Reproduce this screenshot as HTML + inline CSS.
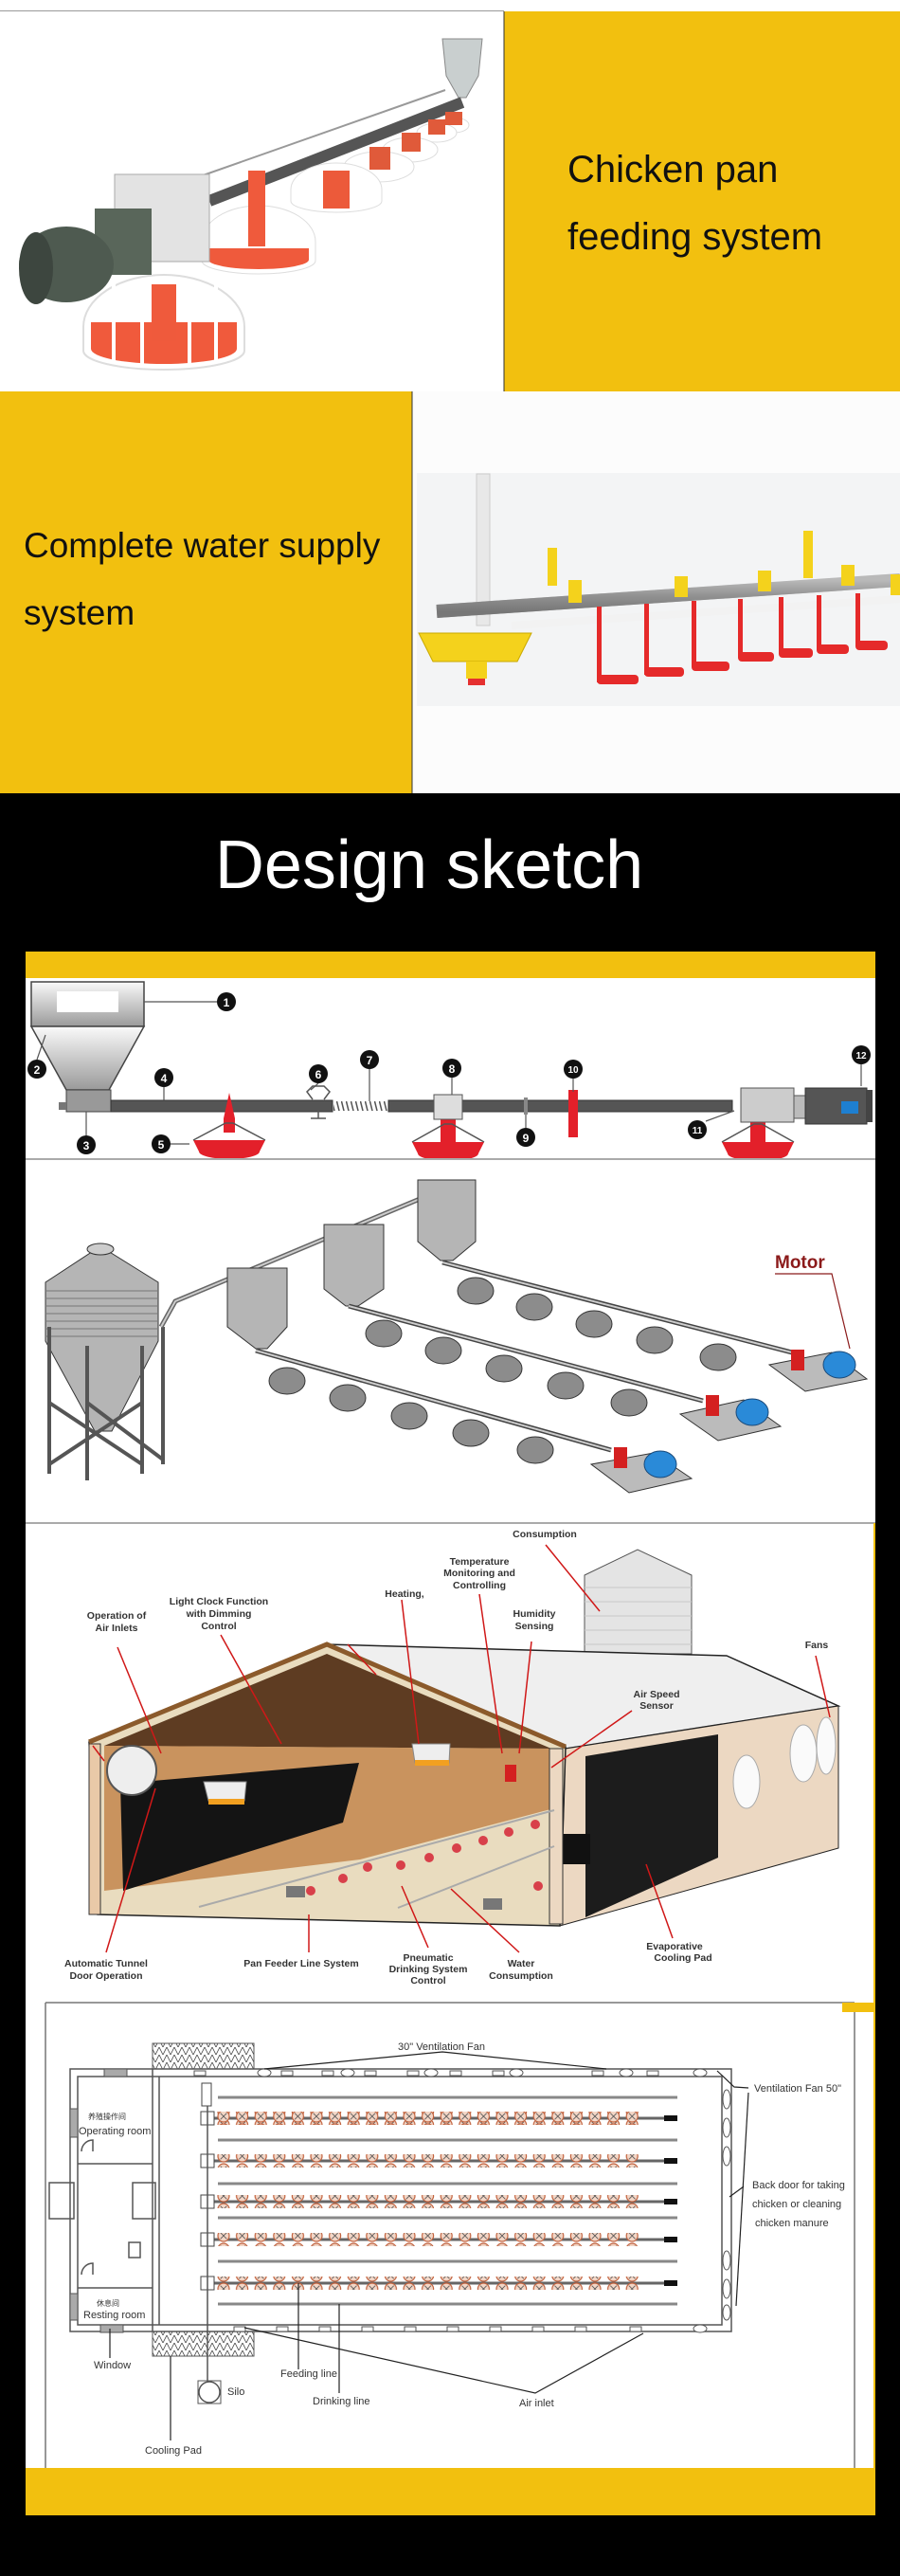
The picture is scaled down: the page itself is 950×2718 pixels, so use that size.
<!DOCTYPE html>
<html><head><meta charset="utf-8"><style>
html,body{margin:0;padding:0;background:#fff}
svg{display:block}
text{font-family:"Liberation Sans","Noto Sans CJK SC",sans-serif}
</style></head><body>
<svg width="950" height="2718" viewBox="0 0 950 2718" xmlns="http://www.w3.org/2000/svg">
<defs>
<linearGradient id="hop" x1="0" y1="0" x2="0" y2="1"><stop offset="0" stop-color="#fafafa"/><stop offset="1" stop-color="#9a9a9a"/></linearGradient>
<linearGradient id="pipeg" x1="0" y1="0" x2="0" y2="1"><stop offset="0" stop-color="#d8d8d8"/><stop offset=".5" stop-color="#8a8a8a"/><stop offset="1" stop-color="#555"/></linearGradient>
<pattern id="fpan" x="226.2" y="0" width="19.6" height="3000" patternUnits="userSpaceOnUse">
<circle cx="9.8" cy="0" r="6.5" fill="#f3d6c6" stroke="#c0603c" stroke-width="1.2"/>
</pattern>
<pattern id="zig" x="0" y="0" width="8" height="8" patternUnits="userSpaceOnUse">
<path d="M0 0 L4 8 L8 0" fill="none" stroke="#444" stroke-width="0.8"/>
</pattern>
<pattern id="spring" x="0" y="0" width="5" height="20" patternUnits="userSpaceOnUse">
<line x1="0" y1="0" x2="5" y2="20" stroke="#555" stroke-width="1.5"/>
</pattern>
</defs>

<!-- ===== SECTION 1 ===== -->
<rect x="0" y="0" width="950" height="12" fill="#fff"/>
<line x1="0" y1="12" x2="532" y2="12" stroke="#333" stroke-width="1"/>
<rect x="0" y="12" width="532" height="401" fill="#fff"/>
<rect x="532" y="12" width="418" height="401" fill="#f2c00f"/>
<line x1="532" y1="12" x2="532" y2="413" stroke="#333" stroke-width="1"/>
<text x="599" y="192" font-size="40" fill="#111">Chicken pan</text>
<text x="599" y="263" font-size="40" fill="#111">feeding system</text>
<!-- feeder photo -->
<polygon points="467,41 509,41 505,80 492,103 484,103 471,80" fill="#c9cfcf" stroke="#888"/>
<line x1="221" y1="212" x2="488" y2="108" stroke="#555" stroke-width="12"/>
<line x1="200" y1="190" x2="470" y2="95" stroke="#999" stroke-width="2"/>
<g stroke="#e05030" stroke-width="1">
<ellipse cx="479" cy="132" rx="16" ry="8" fill="#fff" stroke="#ddd"/>
<ellipse cx="461" cy="140" rx="21" ry="10" fill="#fff" stroke="#ddd"/>
<ellipse cx="433" cy="158" rx="29" ry="13" fill="#fff" stroke="#ddd"/>
<ellipse cx="400" cy="176" rx="37" ry="16" fill="#fff" stroke="#ddd"/>
</g>
<rect x="470" y="118" width="18" height="14" fill="#e05a3a"/>
<rect x="452" y="126" width="18" height="16" fill="#e05a3a"/>
<rect x="424" y="140" width="20" height="20" fill="#e05a3a"/>
<rect x="390" y="155" width="22" height="24" fill="#e05a3a"/>
<path d="M307 200 a48 28 0 0 1 96 0 v12 a48 12 0 0 1 -96 0z" fill="#fff" stroke="#ddd"/>
<rect x="341" y="180" width="28" height="40" fill="#ec5a3a"/>
<path d="M213 255 a60 38 0 0 1 120 0 v20 a60 14 0 0 1 -120 0z" fill="#fff" stroke="#ddd"/>
<path d="M220 262 h106 v12 a53 10 0 0 1 -106 0z" fill="#ef5a3c"/>
<rect x="262" y="180" width="18" height="80" fill="#ef5a3c"/>
<path d="M88 345 a85 55 0 0 1 170 0 v25 a85 20 0 0 1 -170 0z" fill="#fff" stroke="#ddd" stroke-width="2"/>
<path d="M96 340 h154 v28 a77 16 0 0 1 -154 0z" fill="#f05a3c"/>
<g stroke="#fff" stroke-width="4"><line x1="120" y1="300" x2="120" y2="380"/><line x1="150" y1="295" x2="150" y2="385"/><line x1="200" y1="295" x2="200" y2="385"/><line x1="228" y1="300" x2="228" y2="380"/></g>
<rect x="160" y="300" width="26" height="60" fill="#ef5a3c"/>
<rect x="121" y="184" width="100" height="92" fill="#e3e3e3" stroke="#aaa"/>
<rect x="100" y="220" width="60" height="70" fill="#59665a"/>
<ellipse cx="70" cy="279" rx="50" ry="40" fill="#4e5a50"/>
<ellipse cx="38" cy="283" rx="18" ry="38" fill="#3d463f"/>

<!-- ===== SECTION 2 ===== -->
<rect x="0" y="413" width="435" height="424" fill="#f2c00f"/>
<rect x="435" y="413" width="515" height="424" fill="#fcfcfc"/>
<rect x="440" y="499" width="510" height="246" fill="#f3f4f5"/>
<line x1="435" y1="413" x2="435" y2="837" stroke="#333" stroke-width="1"/>
<text x="25" y="588" font-size="37" fill="#111">Complete water supply</text>
<text x="25" y="659" font-size="37" fill="#111">system</text>
<rect x="503" y="500" width="14" height="160" fill="#e8e8e8" stroke="#ccc"/>
<line x1="461" y1="645" x2="950" y2="612" stroke="url(#pipeg)" stroke-width="14"/>
<line x1="461" y1="645" x2="950" y2="612" stroke="#999" stroke-width="14" stroke-opacity=".5"/>
<line x1="540" y1="660" x2="950" y2="632" stroke="#f2f2f2" stroke-width="8"/>
<path d="M442 668 h119 l-15 30 h-89z" fill="#f4d21c" stroke="#c9a800"/>
<rect x="492" y="698" width="22" height="18" fill="#f4d21c"/>
<rect x="494" y="716" width="18" height="7" fill="#e53030"/>
<g fill="#f4d21c"><rect x="578" y="578" width="10" height="40"/><rect x="600" y="612" width="14" height="24"/><rect x="712" y="608" width="14" height="22"/><rect x="800" y="602" width="14" height="22"/><rect x="848" y="560" width="10" height="50"/><rect x="888" y="596" width="14" height="22"/><rect x="940" y="606" width="10" height="22"/></g>
<g fill="#e52a2a">
<rect x="630" y="640" width="5" height="80"/><rect x="630" y="712" width="44" height="10" rx="4"/>
<rect x="680" y="637" width="5" height="75"/><rect x="680" y="704" width="42" height="10" rx="4"/>
<rect x="730" y="634" width="5" height="70"/><rect x="730" y="698" width="40" height="10" rx="4"/>
<rect x="779" y="632" width="5" height="62"/><rect x="779" y="688" width="38" height="10" rx="4"/>
<rect x="822" y="630" width="5" height="60"/><rect x="822" y="684" width="36" height="10" rx="4"/>
<rect x="862" y="628" width="5" height="58"/><rect x="862" y="680" width="34" height="10" rx="4"/>
<rect x="903" y="626" width="5" height="56"/><rect x="903" y="676" width="34" height="10" rx="4"/>
</g>

<!-- ===== BLACK SECTION ===== -->
<rect x="0" y="837" width="950" height="1881" fill="#000"/>
<text x="453" y="937" font-size="72" fill="#fff" text-anchor="middle">Design sketch</text>

<!-- Panel 1 -->
<rect x="27" y="1004" width="897" height="28" fill="#f2c00f"/>
<rect x="27" y="1032" width="897" height="191" fill="#fff"/>
<rect x="33" y="1036" width="119" height="47" fill="url(#hop)" stroke="#444" stroke-width="1.5"/>
<rect x="60" y="1046" width="65" height="22" fill="#fff"/>
<polygon points="33,1083 152,1083 115,1150 70,1150" fill="url(#hop)" stroke="#444" stroke-width="1.5"/>
<rect x="70" y="1150" width="47" height="23" fill="#999" stroke="#444"/>
<rect x="62" y="1163" width="8" height="8" fill="#777"/>
<rect x="117" y="1161" width="234" height="12" fill="#555" stroke="#333"/>
<rect x="352" y="1162" width="58" height="10" fill="url(#spring)"/>
<rect x="410" y="1161" width="363" height="12" fill="#555" stroke="#333"/>
<!-- pans -->
<g fill="#e3202a">
<polygon points="236,1180 242,1153 248,1180 248,1195 236,1195"/>
<path d="M204 1203 h76 l-6 12 a32 8 0 0 1 -64 0z"/>
<path d="M435 1205 h76 l-6 12 a32 8 0 0 1 -64 0z"/>
<rect x="465" y="1175" width="16" height="30"/>
<path d="M762 1205 h76 l-6 12 a32 8 0 0 1 -64 0z"/>
<rect x="792" y="1175" width="16" height="30"/>
<rect x="600" y="1150" width="10" height="50"/>
</g>
<g stroke="#555" stroke-width="1.5" fill="none">
<path d="M204 1203 L238 1185 L246 1185 L280 1203"/>
<path d="M435 1205 L469 1186 L477 1186 L511 1205"/>
<path d="M762 1205 L796 1186 L804 1186 L838 1205"/>
<path d="M330 1160 l-6 -8 6 -6 12 0 6 6 -6 8 M336 1172 v8 M328 1180 h16"/>
</g>
<rect x="458" y="1155" width="30" height="26" fill="#ddd" stroke="#555"/>
<rect x="553" y="1158" width="4" height="18" fill="#888"/>
<rect x="782" y="1148" width="56" height="36" fill="#ccc" stroke="#555"/>
<rect x="838" y="1156" width="12" height="24" fill="#bbb" stroke="#555"/>
<rect x="850" y="1148" width="65" height="38" fill="#555" stroke="#333"/>
<rect x="915" y="1150" width="6" height="34" fill="#444"/>
<rect x="888" y="1162" width="18" height="13" fill="#1e7fd0"/>
<g stroke="#555" stroke-width="1.2">
<line x1="152" y1="1057" x2="229" y2="1057"/><line x1="39" y1="1118" x2="48" y2="1092"/><line x1="91" y1="1173" x2="91" y2="1198"/>
<line x1="173" y1="1147" x2="173" y2="1161"/><line x1="180" y1="1207" x2="200" y2="1207"/><line x1="336" y1="1143" x2="328" y2="1150"/>
<line x1="390" y1="1128" x2="390" y2="1162"/><line x1="477" y1="1137" x2="477" y2="1155"/><line x1="555" y1="1176" x2="555" y2="1190"/>
<line x1="605" y1="1138" x2="605" y2="1152"/><line x1="745" y1="1183" x2="775" y2="1172"/><line x1="909" y1="1123" x2="909" y2="1146"/>
</g>
<g fill="#111">
<circle cx="239" cy="1057" r="10"/><circle cx="39" cy="1128" r="10"/><circle cx="91" cy="1208" r="10"/><circle cx="173" cy="1137" r="10"/>
<circle cx="170" cy="1207" r="10"/><circle cx="336" cy="1133" r="10"/><circle cx="390" cy="1118" r="10"/><circle cx="477" cy="1127" r="10"/>
<circle cx="555" cy="1200" r="10"/><circle cx="605" cy="1128" r="10"/><circle cx="736" cy="1192" r="10"/><circle cx="909" cy="1113" r="10"/>
</g>
<g fill="#fff" font-size="12" font-weight="bold" text-anchor="middle">
<text x="239" y="1062">1</text><text x="39" y="1133">2</text><text x="91" y="1213">3</text><text x="173" y="1142">4</text>
<text x="170" y="1212">5</text><text x="336" y="1138">6</text><text x="390" y="1123">7</text><text x="477" y="1132">8</text>
<text x="555" y="1205">9</text><text x="605" y="1132" font-size="10">10</text><text x="736" y="1196" font-size="10">11</text><text x="909" y="1117" font-size="10">12</text>
</g>

<!-- Panel 2 -->
<rect x="27" y="1223" width="897" height="384" fill="#fff"/>
<line x1="27" y1="1223" x2="924" y2="1223" stroke="#aaa" stroke-width="2"/>
<!-- silo -->
<polygon points="106,1315 167,1353 167,1415 118,1510 100,1510 48,1415 48,1353" fill="#b5b5b5" stroke="#333"/>
<ellipse cx="106" cy="1318" rx="14" ry="6" fill="#ccc" stroke="#333"/>
<g stroke="#777" stroke-width="1">
<line x1="48" y1="1362" x2="167" y2="1362"/><line x1="48" y1="1370" x2="167" y2="1370"/><line x1="48" y1="1378" x2="167" y2="1378"/><line x1="48" y1="1386" x2="167" y2="1386"/><line x1="48" y1="1394" x2="167" y2="1394"/><line x1="48" y1="1402" x2="167" y2="1402"/><line x1="48" y1="1410" x2="167" y2="1410"/>
</g>
<g stroke="#555" stroke-width="4" fill="none">
<line x1="52" y1="1400" x2="52" y2="1555"/><line x1="92" y1="1420" x2="92" y2="1562"/><line x1="150" y1="1420" x2="150" y2="1555"/><line x1="172" y1="1400" x2="172" y2="1545"/>
<path d="M52 1480 L150 1545 M150 1480 L52 1545 M92 1480 L172 1540"/>
</g>
<path d="M170 1400 L185 1373 L479 1250" stroke="#666" stroke-width="5" fill="none"/>
<path d="M170 1400 L185 1373 L479 1250" stroke="#ccc" stroke-width="2" fill="none"/>
<g fill="#b5b5b5" stroke="#333">
<polygon points="240,1338 303,1338 303,1400 282,1423 270,1423 240,1400"/>
<polygon points="342,1292 405,1292 405,1360 378,1378 365,1378 342,1360"/>
<polygon points="441,1245 502,1245 502,1310 478,1330 465,1330 441,1310"/>
</g>
<g stroke="#444" stroke-width="5"><line x1="270" y1="1425" x2="645" y2="1530"/><line x1="368" y1="1378" x2="742" y2="1478"/><line x1="467" y1="1332" x2="836" y2="1427"/></g>
<g stroke="#ccc" stroke-width="2"><line x1="270" y1="1425" x2="645" y2="1530"/><line x1="368" y1="1378" x2="742" y2="1478"/><line x1="467" y1="1332" x2="836" y2="1427"/></g>
<g fill="#8c8c8c" stroke="#333">
<ellipse cx="303" cy="1457" rx="19" ry="14"/><ellipse cx="367" cy="1475" rx="19" ry="14"/><ellipse cx="432" cy="1494" rx="19" ry="14"/><ellipse cx="497" cy="1512" rx="19" ry="14"/><ellipse cx="565" cy="1530" rx="19" ry="14"/>
<ellipse cx="405" cy="1407" rx="19" ry="14"/><ellipse cx="468" cy="1425" rx="19" ry="14"/><ellipse cx="532" cy="1444" rx="19" ry="14"/><ellipse cx="597" cy="1462" rx="19" ry="14"/><ellipse cx="664" cy="1480" rx="19" ry="14"/>
<ellipse cx="502" cy="1362" rx="19" ry="14"/><ellipse cx="564" cy="1379" rx="19" ry="14"/><ellipse cx="627" cy="1397" rx="19" ry="14"/><ellipse cx="691" cy="1414" rx="19" ry="14"/><ellipse cx="758" cy="1432" rx="19" ry="14"/>
</g>
<g fill="#bbb" stroke="#333">
<polygon points="624,1545 690,1533 730,1560 664,1575"/>
<polygon points="718,1492 785,1477 824,1505 758,1520"/>
<polygon points="812,1440 878,1427 915,1455 850,1468"/>
</g>
<g fill="#d42020"><rect x="648" y="1527" width="14" height="22"/><rect x="745" y="1472" width="14" height="22"/><rect x="835" y="1424" width="14" height="22"/></g>
<g fill="#2a8ad8" stroke="#1a4a7a"><ellipse cx="697" cy="1545" rx="17" ry="14"/><ellipse cx="794" cy="1490" rx="17" ry="14"/><ellipse cx="886" cy="1440" rx="17" ry="14"/></g>
<text x="818" y="1338" font-size="19" font-weight="bold" fill="#8b1a1a">Motor</text>
<polyline points="818,1344 878,1344 897,1423" fill="none" stroke="#8b1a1a" stroke-width="1.2"/>

<!-- Panel 3 -->
<rect x="27" y="1607" width="897" height="506" fill="#fff"/>
<line x1="27" y1="1607" x2="924" y2="1607" stroke="#aaa" stroke-width="2"/>
<line x1="923" y1="1607" x2="923" y2="2113" stroke="#f2c00f" stroke-width="2"/>
<!-- silo -->
<polygon points="617,1662 673,1635 730,1662 730,1745 617,1745" fill="#e4e4e4" stroke="#555"/>
<g stroke="#c8c8c8"><line x1="617" y1="1675" x2="730" y2="1675"/><line x1="617" y1="1690" x2="730" y2="1690"/><line x1="617" y1="1705" x2="730" y2="1705"/><line x1="617" y1="1720" x2="730" y2="1720"/><line x1="617" y1="1735" x2="730" y2="1735"/></g>
<!-- roof -->
<polygon points="345,1735 767,1747 885,1800 597,1845" fill="#efefef" stroke="#222" stroke-width="1.5"/>
<!-- side wall -->
<polygon points="597,1845 885,1800 885,1950 591,2032" fill="#ecd8c2" stroke="#222"/>
<polygon points="618,1853 758,1830 758,1960 618,2023" fill="#1c1c1c"/>
<ellipse cx="788" cy="1880" rx="14" ry="28" fill="#fafafa" stroke="#aaa"/>
<ellipse cx="848" cy="1850" rx="14" ry="30" fill="#fafafa" stroke="#aaa"/>
<ellipse cx="872" cy="1842" rx="10" ry="30" fill="#fafafa" stroke="#aaa"/>
<rect x="593" y="1935" width="30" height="32" fill="#111"/>
<!-- front interior -->
<polygon points="94,1838 345,1735 597,1843 591,2032 103,2020" fill="#e9dcbf" stroke="#222" stroke-width="1.5"/>
<polygon points="110,1842 345,1745 582,1845" fill="#5e3c22"/>
<polygon points="110,1842 582,1845 585,1908 380,1962 110,1995" fill="#c9935e"/>
<polygon points="127,1882 379,1860 362,1923 130,1995" fill="#141414"/>
<rect x="94" y="1840" width="12" height="180" fill="#e9c9a8" stroke="#333"/>
<rect x="580" y="1845" width="14" height="185" fill="#ecd8c2" stroke="#333"/>
<polyline points="94,1838 345,1735 597,1843" fill="none" stroke="#8b5a2b" stroke-width="5"/>
<circle cx="139" cy="1868" r="26" fill="#eee" stroke="#555" stroke-width="2"/>
<g fill="#eee" stroke="#888"><polygon points="215,1880 260,1880 258,1900 220,1900"/><polygon points="435,1840 475,1840 474,1860 438,1860"/></g>
<rect x="220" y="1898" width="38" height="6" fill="#f2a020"/><rect x="438" y="1857" width="36" height="6" fill="#f2a020"/>
<rect x="533" y="1862" width="12" height="18" fill="#d42020"/>
<g stroke="#aaa" stroke-width="2"><line x1="210" y1="2012" x2="585" y2="1910"/><line x1="420" y1="2013" x2="585" y2="1948"/></g>
<g fill="#d8404a">
<circle cx="328" cy="1995" r="5"/><circle cx="362" cy="1982" r="5"/><circle cx="388" cy="1970" r="5"/><circle cx="423" cy="1968" r="5"/><circle cx="453" cy="1960" r="5"/><circle cx="482" cy="1950" r="5"/><circle cx="510" cy="1942" r="5"/><circle cx="537" cy="1933" r="5"/><circle cx="565" cy="1925" r="5"/><circle cx="568" cy="1990" r="5"/>
</g>
<g fill="#777"><rect x="302" y="1990" width="20" height="12"/><rect x="510" y="2003" width="20" height="12"/></g>
<!-- arrows -->
<g stroke="#d01818" stroke-width="1.5">
<line x1="124" y1="1738" x2="170" y2="1850"/><line x1="233" y1="1725" x2="297" y2="1840"/><line x1="424" y1="1688" x2="442" y2="1840"/>
<line x1="506" y1="1682" x2="530" y2="1850"/><line x1="561" y1="1732" x2="548" y2="1850"/><line x1="576" y1="1630" x2="633" y2="1700"/>
<line x1="667" y1="1805" x2="582" y2="1865"/><line x1="861" y1="1747" x2="876" y2="1812"/><line x1="367" y1="1735" x2="397" y2="1767"/>
<line x1="112" y1="2060" x2="164" y2="1887"/><line x1="326" y1="2060" x2="326" y2="2020"/><line x1="452" y1="2055" x2="424" y2="1990"/>
<line x1="548" y1="2060" x2="476" y2="1993"/><line x1="710" y1="2045" x2="682" y2="1967"/><line x1="110" y1="1858" x2="98" y2="1842"/>
</g>
<g font-size="10.5" font-weight="bold" fill="#333" text-anchor="middle">
<text x="575" y="1622">Consumption</text>
<text x="506" y="1651">Temperature</text><text x="506" y="1663">Monitoring and</text><text x="506" y="1676">Controlling</text>
<text x="427" y="1685">Heating,</text>
<text x="231" y="1693">Light Clock Function</text><text x="231" y="1706">with Dimming</text><text x="231" y="1719">Control</text>
<text x="123" y="1708">Operation of</text><text x="123" y="1721">Air Inlets</text>
<text x="564" y="1706">Humidity</text><text x="564" y="1719">Sensing</text>
<text x="862" y="1739">Fans</text>
<text x="693" y="1791">Air Speed</text><text x="693" y="1803">Sensor</text>
<text x="112" y="2075">Automatic Tunnel</text><text x="112" y="2088">Door Operation</text>
<text x="318" y="2075">Pan Feeder Line System</text>
<text x="452" y="2069">Pneumatic</text><text x="452" y="2081">Drinking System</text><text x="452" y="2093">Control</text>
<text x="550" y="2075">Water</text><text x="550" y="2088">Consumption</text>
<text x="712" y="2057">Evaporative</text><text x="721" y="2069">Cooling Pad</text>
</g>

<!-- Panel 4 -->
<rect x="27" y="2113" width="897" height="491" fill="#fff"/>
<line x1="48" y1="2113" x2="48" y2="2604" stroke="#777" stroke-width="1.5"/>
<line x1="48" y1="2113" x2="902" y2="2113" stroke="#777" stroke-width="1.5"/>
<line x1="902" y1="2113" x2="902" y2="2604" stroke="#777" stroke-width="1.5"/>
<rect x="889" y="2113" width="35" height="10" fill="#f2c00f"/>
<line x1="923" y1="2123" x2="923" y2="2604" stroke="#f2c00f" stroke-width="2"/>
<g fill="none" stroke="#555" stroke-width="1.5">
<rect x="74" y="2183" width="698" height="277"/>
<rect x="82" y="2191" width="680" height="262"/>
<line x1="161" y1="2183" x2="161" y2="2460"/><line x1="168" y1="2191" x2="168" y2="2453"/>
<line x1="82" y1="2283" x2="161" y2="2283"/><line x1="82" y1="2414" x2="161" y2="2414"/>
<rect x="52" y="2303" width="26" height="38"/><rect x="140" y="2303" width="24" height="38"/>
<rect x="136" y="2366" width="12" height="16"/>
<path d="M86 2270 a12 12 0 0 1 12 -12 v12 M86 2400 a12 12 0 0 1 12 -12 v12"/>
</g>
<rect x="161" y="2156" width="107" height="27" fill="url(#zig)" stroke="#555"/>
<rect x="161" y="2460" width="107" height="26" fill="url(#zig)" stroke="#555"/>
<g fill="#aaa" stroke="#555"><rect x="110" y="2183" width="24" height="8"/><rect x="106" y="2453" width="24" height="8"/><rect x="74" y="2225" width="8" height="30"/><rect x="74" y="2420" width="8" height="28"/></g>
<g fill="#fff" stroke="#555" stroke-width="1">
<ellipse cx="279" cy="2187" rx="7" ry="4"/><ellipse cx="367" cy="2187" rx="7" ry="4"/><ellipse cx="455" cy="2187" rx="7" ry="4"/><ellipse cx="545" cy="2187" rx="7" ry="4"/><ellipse cx="661" cy="2187" rx="7" ry="4"/><ellipse cx="739" cy="2187" rx="7" ry="4"/><ellipse cx="739" cy="2457" rx="7" ry="4"/>
<rect x="205" y="2185" width="12" height="5"/><rect x="297" y="2185" width="12" height="5"/><rect x="340" y="2185" width="12" height="5"/><rect x="385" y="2185" width="12" height="5"/><rect x="430" y="2185" width="12" height="5"/><rect x="475" y="2185" width="12" height="5"/><rect x="520" y="2185" width="12" height="5"/><rect x="625" y="2185" width="12" height="5"/><rect x="683" y="2185" width="12" height="5"/>
<rect x="247" y="2455" width="12" height="5"/><rect x="292" y="2455" width="12" height="5"/><rect x="337" y="2455" width="12" height="5"/><rect x="382" y="2455" width="12" height="5"/><rect x="427" y="2455" width="12" height="5"/><rect x="472" y="2455" width="12" height="5"/><rect x="517" y="2455" width="12" height="5"/><rect x="562" y="2455" width="12" height="5"/><rect x="607" y="2455" width="12" height="5"/><rect x="665" y="2455" width="12" height="5"/>
<ellipse cx="767" cy="2215" rx="4" ry="10"/><ellipse cx="767" cy="2245" rx="4" ry="10"/><ellipse cx="767" cy="2275" rx="4" ry="10"/><ellipse cx="767" cy="2385" rx="4" ry="10"/><ellipse cx="767" cy="2415" rx="4" ry="10"/><ellipse cx="767" cy="2440" rx="4" ry="8"/>
</g>
<!-- drinking lines -->
<g stroke="#888" stroke-width="3">
<line x1="230" y1="2213" x2="715" y2="2213"/><line x1="230" y1="2258" x2="715" y2="2258"/><line x1="230" y1="2304" x2="715" y2="2304"/><line x1="230" y1="2340" x2="715" y2="2340"/><line x1="230" y1="2386" x2="715" y2="2386"/><line x1="230" y1="2431" x2="715" y2="2431"/>
</g>
<!-- feed lines -->
<g stroke="#666" stroke-width="3">
<line x1="215" y1="2235" x2="715" y2="2235"/><line x1="215" y1="2280" x2="715" y2="2280"/><line x1="215" y1="2323" x2="715" y2="2323"/><line x1="215" y1="2363" x2="715" y2="2363"/><line x1="215" y1="2409" x2="715" y2="2409"/>
</g>
<g fill="url(#fpan)">
<rect x="226" y="2228" width="451" height="14" style="transform:translateY(0)"/>
</g>
<g>
<g transform="translate(0,2235)"><rect x="226.2" y="-7" width="451" height="14" fill="url(#fpan2)"/></g>
</g>
<defs>
<pattern id="fpan2" x="226.2" y="0" width="19.6" height="14" patternUnits="userSpaceOnUse">
<circle cx="9.8" cy="7" r="6" fill="#f3d6c6" stroke="#c0603c" stroke-width="1.2"/>
<path d="M6.5 3.7 L13.1 10.3 M13.1 3.7 L6.5 10.3" stroke="#555" stroke-width="0.8"/>
</pattern>
</defs>
<rect x="226.2" y="2228" width="451" height="14" fill="url(#fpan2)"/>
<rect x="226.2" y="2273" width="451" height="14" fill="url(#fpan2)" transform="translate(0,0)"/>
<rect x="226.2" y="2316" width="451" height="14" fill="url(#fpan2)"/>
<rect x="226.2" y="2356" width="451" height="14" fill="url(#fpan2)"/>
<rect x="226.2" y="2402" width="451" height="14" fill="url(#fpan2)"/>
<g fill="#111"><rect x="701" y="2232" width="14" height="6"/><rect x="701" y="2277" width="14" height="6"/><rect x="701" y="2320" width="14" height="6"/><rect x="701" y="2360" width="14" height="6"/><rect x="701" y="2406" width="14" height="6"/></g>
<g fill="#fff" stroke="#444"><rect x="213" y="2198" width="10" height="24"/><rect x="212" y="2228" width="14" height="14"/><rect x="212" y="2273" width="14" height="14"/><rect x="212" y="2316" width="14" height="14"/><rect x="212" y="2356" width="14" height="14"/><rect x="212" y="2402" width="14" height="14"/></g>
<line x1="219" y1="2222" x2="219" y2="2512" stroke="#555" stroke-width="1.5"/>
<rect x="209" y="2512" width="24" height="24" fill="none" stroke="#555"/>
<circle cx="221" cy="2524" r="11" fill="#fff" stroke="#555" stroke-width="1.5"/>
<g stroke="#222" stroke-width="1.2" fill="none">
<polyline points="279,2183 467,2165 640,2183"/>
<polyline points="757,2185 775,2202 790,2203"/>
<line x1="790" y1="2208" x2="777" y2="2433"/>
<line x1="785" y1="2307" x2="770" y2="2318"/>
<polyline points="258,2456 565,2525 679,2462"/>
<line x1="315" y1="2500" x2="315" y2="2409"/>
<line x1="358" y1="2525" x2="358" y2="2431"/>
<line x1="116" y1="2488" x2="116" y2="2457"/>
<line x1="180" y1="2575" x2="180" y2="2486"/>
</g>
<g font-size="11" fill="#333">
<text x="420" y="2163">30" Ventilation Fan</text>
<text x="796" y="2207">Ventilation Fan 50"</text>
<text x="794" y="2309">Back door for taking</text>
<text x="794" y="2329">chicken or cleaning</text>
<text x="797" y="2349">chicken manure</text>
<text x="93" y="2236" font-size="8">养殖操作间</text>
<text x="83" y="2252">Operating room</text>
<text x="102" y="2433" font-size="8">休息间</text>
<text x="88" y="2446">Resting room</text>
<text x="99" y="2499">Window</text>
<text x="240" y="2527">Silo</text>
<text x="296" y="2508">Feeding line</text>
<text x="330" y="2537">Drinking line</text>
<text x="548" y="2539">Air inlet</text>
<text x="153" y="2589">Cooling Pad</text>
</g>
<rect x="27" y="2604" width="897" height="50" fill="#f2c00f"/>
</svg>
</body></html>
